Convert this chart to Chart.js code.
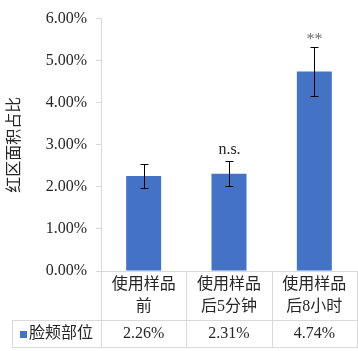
<!DOCTYPE html>
<html><head><meta charset="utf-8">
<script src="https://cdn.jsdelivr.net/npm/chart.js@4.4.1/dist/chart.umd.min.js"></script>
<style>html,body{margin:0;padding:0;background:#fff;}canvas{display:block;}</style>
</head><body>
<canvas id="c" width="358" height="351"></canvas>
<script>
const categories = [['使用样品', '前'], ['使用样品', '后5分钟'], ['使用样品', '后8小时']];
const seriesName = '脸颊部位';
const values = [2.26, 2.31, 4.74];
const errors = [0.28, 0.30, 0.59];
const valueLabels = ['2.26%', '2.31%', '4.74%'];
const sigLabels = ['', 'n.s.', '**'];
const yTickLabels = ['0.00%', '1.00%', '2.00%', '3.00%', '4.00%', '5.00%', '6.00%'];
const yTitle = '红区面积占比';

const FONT = '"Liberation Serif", "Noto Sans CJK SC", serif';
const BLUE = '#4472C4';
const LINE = '#d9d9d9';
const TEXT = '#262626';

const overlay = {
  id: 'overlay',
  afterDatasetsDraw(chart) {
    const {ctx, scales: {x, y}} = chart;
    ctx.save();
    ctx.strokeStyle = '#000';
    ctx.lineWidth = 1;
    values.forEach((v, i) => {
      const px = Math.round(x.getPixelForValue(i)) + 0.5;
      const top = Math.round(y.getPixelForValue(v + errors[i])) + 0.5;
      const bot = Math.round(y.getPixelForValue(v - errors[i])) + 0.5;
      ctx.beginPath();
      ctx.moveTo(px, top); ctx.lineTo(px, bot);
      ctx.moveTo(px - 4, top); ctx.lineTo(px + 4, top);
      ctx.moveTo(px - 4, bot); ctx.lineTo(px + 4, bot);
      ctx.stroke();
      const s = sigLabels[i];
      if (s) {
        ctx.textAlign = 'center';
        ctx.textBaseline = 'alphabetic';
        ctx.font = '16px ' + FONT;
        if (s === '**') {
          ctx.fillStyle = '#6e6e6e';
          ctx.fillText(s, px, top - 4);
        } else {
          ctx.fillStyle = TEXT;
          ctx.fillText(s, px, top - 8);
        }
      }
    });
    ctx.restore();
  },
  afterDraw(chart) {
    const {ctx, chartArea, scales: {x}} = chart;
    const y0 = Math.round(chartArea.bottom);
    const y1 = y0 + 49, y2 = y0 + 76;
    const left = 12, right = chart.width;
    ctx.save();
    ctx.strokeStyle = LINE;
    ctx.lineWidth = 1;
    ctx.beginPath();
    ctx.moveTo(left, y1 + 0.5); ctx.lineTo(right, y1 + 0.5);
    ctx.moveTo(left, y2 + 0.5); ctx.lineTo(right, y2 + 0.5);
    ctx.moveTo(left + 0.5, y1); ctx.lineTo(left + 0.5, y2 + 1);
    for (let i = -0.5; i < values.length; i += 1) {
      const bx = Math.round(x.getPixelForValue(i)) + 0.5;
      ctx.moveTo(bx, y0); ctx.lineTo(bx, y2 + 1);
    }
    ctx.stroke();
    const ym = (y1 + y2) / 2 + 0.5;
    ctx.fillStyle = BLUE;
    ctx.fillRect(20, Math.round(ym - 3.5), 7, 7);
    ctx.fillStyle = TEXT;
    ctx.textBaseline = 'middle';
    ctx.textAlign = 'left';
    ctx.font = '16px ' + FONT;
    ctx.fillText(seriesName, 29, ym);
    ctx.textAlign = 'center';
    ctx.font = '16px ' + FONT;
    valueLabels.forEach((t, i) => {
      ctx.fillText(t, x.getPixelForValue(i), ym);
    });
    ctx.restore();
  }
};

new Chart(document.getElementById('c'), {
  type: 'bar',
  data: {
    labels: categories,
    datasets: [{
      label: seriesName,
      data: values,
      backgroundColor: BLUE,
      borderWidth: 0,
      categoryPercentage: 1,
      barPercentage: 0.41
    }]
  },
  options: {
    responsive: false,
    animation: false,
    devicePixelRatio: 1,
    layout: {padding: {top: 16, right: 1, left: 0, bottom: 0}},
    plugins: {legend: {display: false}, tooltip: {enabled: false}},
    scales: {
      x: {
        afterFit: s => { s.height = 80; },
        grid: {display: true, drawOnChartArea: false, drawTicks: false, color: LINE},
        border: {display: true, color: LINE},
        ticks: {
          padding: 3,
          color: TEXT,
          font: {family: FONT, size: 16, lineHeight: 1.375},
          maxRotation: 0, autoSkip: false
        }
      },
      y: {
        min: 0, max: 6,
        afterFit: s => { s.width = 101; },
        grid: {display: true, drawOnChartArea: false, drawTicks: true, tickLength: 5, color: LINE},
        border: {display: true, color: LINE},
        ticks: {
          stepSize: 1,
          padding: 9,
          color: TEXT,
          font: {family: FONT, size: 16},
          callback: (v, i) => yTickLabels[i]
        },
        title: {
          display: true,
          text: yTitle,
          color: TEXT,
          padding: {top: 5, bottom: 0},
          font: {family: FONT, size: 16}
        }
      }
    }
  },
  plugins: [overlay]
});
</script>
</body></html>
